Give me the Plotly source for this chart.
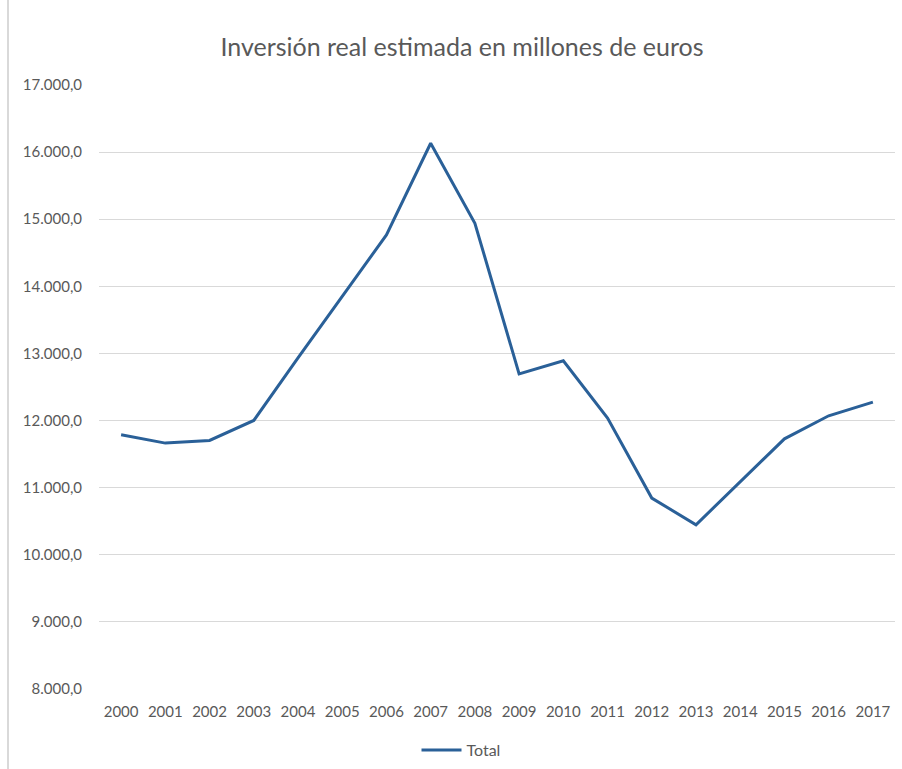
import plotly.graph_objects as go

years = [str(y) for y in range(2000, 2018)]
total = [11788, 11664, 11703, 12001, 12934, 13843, 14766, 16132, 14940,
         12696, 12890, 12036, 10845, 10447, 11088, 11728, 12071, 12275]

y_ticks = list(range(8000, 17001, 1000))

W, H = 902, 769
L, R, T, B = 99, 7, 85, 80
pw = W - L - R
ph = H - T - B

fig = go.Figure()
fig.add_trace(go.Scatter(
    x=years, y=total, mode="lines", name="Total",
    line=dict(color="#2A6098", width=3),
))

fig.update_layout(
    width=W, height=H,
    margin=dict(l=L, r=R, t=T, b=B, autoexpand=False),
    paper_bgcolor="white", plot_bgcolor="white",
    separators=",.",
    font=dict(family="Lato, Open Sans, sans-serif", color="#595959", size=15),
    title=dict(text="Inversión real estimada en millones de euros",
               x=462 / W, xanchor="center", y=1 - 47 / H, yanchor="middle",
               font=dict(size=25, color="#595959")),
    xaxis=dict(type="category", range=[-0.5, len(years) - 0.5],
               showgrid=False, showline=False, zeroline=False,
               ticks="", ticklabelstandoff=12, tickfont=dict(size=15),
               automargin=False),
    yaxis=dict(range=[8000, 17000], tickvals=y_ticks, tickformat=",.1f",
               showgrid=True, gridcolor="#D9D9D9", gridwidth=1,
               zeroline=False, showline=False, ticks="",
               ticklabelstandoff=16, tickfont=dict(size=15), automargin=False),
    showlegend=True,
    legend=dict(orientation="h", x=(461 - L) / pw, xanchor="center",
                y=(T + ph - 750) / ph, yanchor="middle",
                font=dict(size=16, color="#595959"), itemwidth=40),
)

fig.add_shape(type="line", xref="paper", yref="paper",
              x0=(8 - L) / pw, x1=(8 - L) / pw, y0=(T + ph - H) / ph, y1=(T + ph) / ph + 0.2,
              line=dict(color="#D9D9D9", width=2))

fig.write_html("out.html")
